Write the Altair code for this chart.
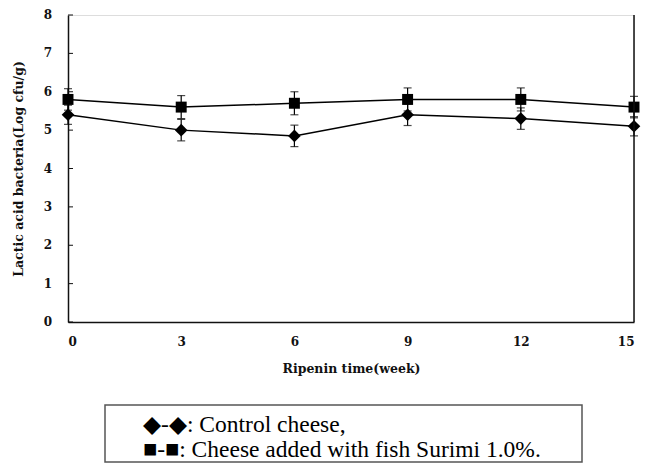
import altair as alt
import pandas as pd

weeks = [0, 3, 6, 9, 12, 15]
control = [5.4, 5.0, 4.85, 5.4, 5.3, 5.1]
control_err = [0.25, 0.28, 0.28, 0.28, 0.28, 0.25]
surimi = [5.8, 5.6, 5.7, 5.8, 5.8, 5.6]
surimi_err = [0.28, 0.3, 0.3, 0.3, 0.3, 0.28]
series_names = ["Control cheese", "Cheese added with fish Surimi 1.0%"]
y_ticks = [0, 1, 2, 3, 4, 5, 6, 7, 8]
legend_labels = ["\u25c6-\u25c6: Control cheese,",
                 "\u25a0-\u25a0: Cheese added with fish Surimi 1.0%."]

rows = []
for w, v, e in zip(weeks, control, control_err):
    rows.append({"week": w, "value": v, "lo": v - e, "hi": v + e, "series": series_names[0]})
for w, v, e in zip(weeks, surimi, surimi_err):
    rows.append({"week": w, "value": v, "lo": v - e, "hi": v + e, "series": series_names[1]})
df = pd.DataFrame(rows)

AXFONT = "DejaVu Serif"
LEGFONT = "Liberation Serif, DejaVu Serif, serif"

xs = alt.Scale(domain=[0, 15], nice=False)
ys = alt.Scale(domain=[0, 8], nice=False)

base = alt.Chart(df)

x_enc = alt.X("week:Q", scale=xs, axis=alt.Axis(
    values=weeks, title="Ripenin time(week)", grid=False, ticks=False, labelOverlap=False,
    labelFont=AXFONT, labelFontWeight="bold", labelFontSize=12, labelColor="#111",
    titleFont=AXFONT, titleFontWeight="bold", titleFontSize=12.5, titleColor="#111",
    labelPadding=14, titlePadding=15, domainColor="#111", domainWidth=1.5))
y_axis = alt.Axis(
    values=y_ticks, title="Lactic acid bacteria(Log cfu/g)", grid=False, ticks=False,
    labels=False,
    titleFont=AXFONT, titleFontWeight="bold", titleFontSize=12.5, titleColor="#111",
    titlePadding=43, domainColor="#111", domainWidth=1.5)
y_enc = alt.Y("value:Q", scale=ys, axis=y_axis)

shape_scale = alt.Scale(domain=series_names, range=["diamond", "square"])
size_scale = alt.Scale(domain=series_names, range=[160, 120])

lines = base.mark_line(color="black", strokeWidth=1.5).encode(
    x=x_enc, y=y_enc, detail="series:N")
err = base.mark_rule(color="black", strokeWidth=1.2).encode(
    x="week:Q", y=alt.Y("lo:Q", axis=y_axis), y2="hi:Q")
cap_lo = base.mark_tick(orient="horizontal", color="black", size=8, thickness=1.2).encode(
    x="week:Q", y=alt.Y("lo:Q", axis=y_axis))
cap_hi = base.mark_tick(orient="horizontal", color="black", size=8, thickness=1.2).encode(
    x="week:Q", y=alt.Y("hi:Q", axis=y_axis))
pts = base.mark_point(filled=True, color="black", opacity=1).encode(
    x="week:Q", y=alt.Y("value:Q", axis=y_axis),
    shape=alt.Shape("series:N", scale=shape_scale, legend=None),
    size=alt.Size("series:N", scale=size_scale, legend=None))

tick_df = pd.DataFrame({"t": y_ticks})
yticks = alt.Chart(tick_df).mark_rule(color="#111", strokeWidth=1).encode(
    y=alt.Y("t:Q", scale=ys, axis=y_axis), x=alt.value(0), x2=alt.value(5))
ylabels = alt.Chart(tick_df).mark_text(
    align="right", baseline="middle", font=AXFONT, fontWeight="bold", fontSize=12,
    color="#111").encode(
    y=alt.Y("t:Q", scale=ys, axis=y_axis), x=alt.value(-16), text="t:Q")

right_df = pd.DataFrame({"xr": [weeks[-1]], "y0": [y_ticks[0]], "y1": [y_ticks[-1]]})
right_line = alt.Chart(right_df).mark_rule(color="#111", strokeWidth=1.5).encode(
    x=alt.X("xr:Q", scale=xs), y=alt.Y("y0:Q", scale=ys, axis=y_axis), y2="y1:Q")

leg_box_df = pd.DataFrame({"k": [0]})
leg_box = alt.Chart(leg_box_df).mark_rect(fill="white", stroke="#555", strokeWidth=1.5).encode(
    x=alt.value(37), x2=alt.value(514), y=alt.value(390), y2=alt.value(447))

leg1 = alt.Chart(pd.DataFrame({"label": [legend_labels[0]]})).mark_text(
    align="left", baseline="alphabetic", font=LEGFONT, fontSize=23.5, color="black").encode(
    text="label:N", x=alt.value(75), y=alt.value(417))
leg2 = alt.Chart(pd.DataFrame({"label": [legend_labels[1]]})).mark_text(
    align="left", baseline="alphabetic", font=LEGFONT, fontSize=23.5, color="black").encode(
    text="label:N", x=alt.value(75), y=alt.value(442))

chart = alt.layer(lines, err, cap_lo, cap_hi, pts, yticks, ylabels, right_line,
                  leg_box, leg1, leg2).properties(
    width=566, height=307,
    autosize=alt.AutoSizeParams(type="none"),
    padding={"left": 60, "top": 7, "right": 8, "bottom": 142},
).configure_view(stroke=None).configure(background="white")

chart.save("out.html", embed_options={"renderer": "svg", "actions": False})
